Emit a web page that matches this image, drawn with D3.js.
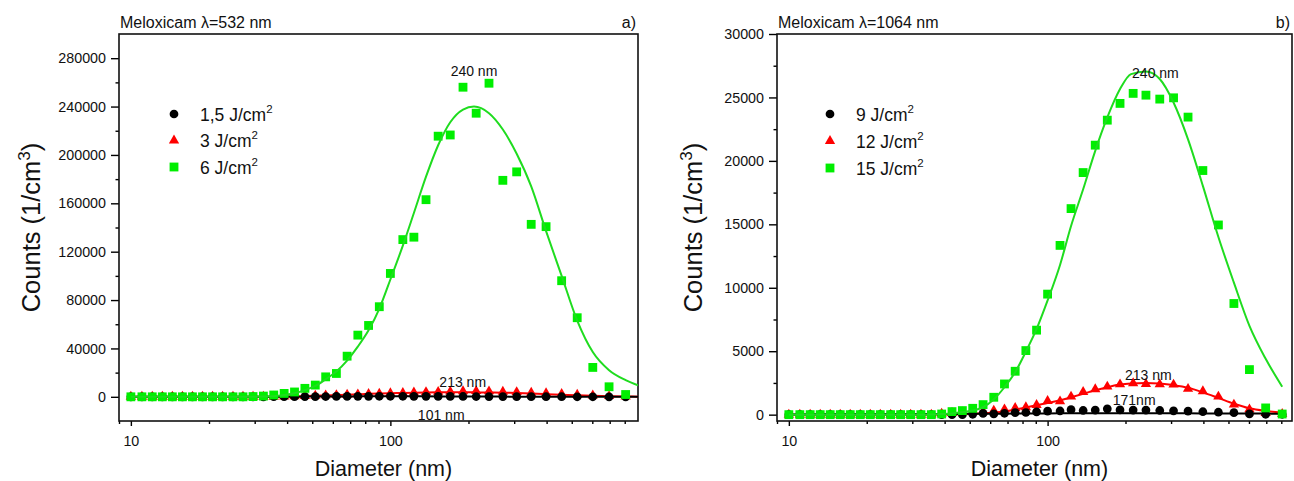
<!DOCTYPE html>
<html>
<head>
<meta charset="utf-8">
<script src="https://cdn.jsdelivr.net/npm/d3@7"></script>
<style>
  html, body { margin: 0; padding: 0; background: #fff; }
  svg { display: block; font-family: "Liberation Sans", Arial, sans-serif; }
</style>
</head>
<body>
<svg id="chart" width="1294" height="481"></svg>
<script>
// ---------- data ----------
const diameters = [10, 11.03, 12.09, 13.22, 14.45, 15.8, 17.27, 18.88, 20.64, 22.56, 24.74, 27.04, 29.56, 32.41, 35.53, 38.96, 42.72, 46.84, 51.36, 56.32, 61.94, 68.13, 74.93, 82.41, 90.65, 100, 111.7, 123.2, 137.2, 152.8, 170.1, 190.5, 214.1, 239.9, 271.3, 306.7, 348.9, 398.1, 457.1, 524.8, 602.6, 696.2, 806.5];

// panel a) lambda = 532 nm
const counts532_1_5 = [0,0,0,0,0,0,0,0,0,0,0,0,0,0, 50,80,120,160,200,250,300,350,400,430,450,460,450,430,400,360,320,280,240,200,160,130,100,80,60,40,30,20,10];
const counts532_3   = [0,0,0,0,0,0,0,0,0,0,0,0,0,0, 100,300,500,700,900,1200,1400,1700,2000,2300,2600,2900,3200,3600,3900,4100,4300,4600,4700,4500,4200,3900,3400,3000,2400,1700,1100,600,200];
const counts532_6   = [0,0,0,0,0,0,0,0,0,0,0,0,200,600, 1500,2800,4000,7000,9700,16500,19300,33600,51000,59000,74500,102000,130000,132000,163000,215500,216500,256000,234500,259300,179000,186000,142600,140700,96000,65400,24300,8300,1900];

const fitDiam532 = [10, 20, 30, 35.5, 39, 42.7, 46.8, 51.4, 56.3, 61.9, 68.1, 74.9, 82.4, 90.7, 100, 111.7, 123.2, 137.2, 152.8, 170.1, 190.5, 210, 239.9, 271.3, 306.7, 348.9, 398.1, 457.1, 524.8, 602.6, 696.2, 806.5, 900];
const fit532_1_5 = [0, 0, 20, 50, 80, 110, 150, 190, 240, 290, 340, 380, 420, 440, 450, 445, 430, 400, 360, 320, 280, 240, 200, 160, 130, 100, 80, 60, 40, 30, 20, 10, 5];
const fit532_3   = [0, 0, 50, 150, 300, 450, 650, 900, 1150, 1450, 1750, 2100, 2450, 2750, 3000, 3250, 3450, 3600, 3700, 3750, 3750, 3700, 3600, 3400, 3100, 2700, 2200, 1700, 1200, 800, 450, 250, 150];
const fit532_6   = [0, 0, 100, 500, 1500, 3000, 5500, 9000, 14500, 21000, 30000, 41500, 55000, 73000, 97000, 125000, 152000, 182000, 208000, 227000, 237500, 240000, 234500, 221000, 201000, 174000, 137000, 100000, 63000, 37000, 22000, 13800, 9500];

// panel b) lambda = 1064 nm
const counts1064_9  = [0,0,0,0,0,0,0,0,0,0,0,0,0,0,0,0,0,0, 30,100,60,110,160,170,220,280,290,390,330,360,460,370,360,360,330,300,280,230,190,160,60,30,30];
const counts1064_12 = [0,0,0,0,0,0,0,0,0,0,0,0,0,0,0, 80,130,180,240,260,320,420,530,580,760,1080,1050,1420,1790,2000,2210,2390,2470,2420,2390,2370,2030,1840,1420,790,420,130,50];
const counts1064_15 = [0,0,0,0,0,0,0,0,0,0,0,0,0,0,0, 50,240,320,500,790,1370,2420,3420,5050,6660,9500,13340,16240,19080,21240,23210,24530,25320,25180,24870,24970,23450,19240,14950,8760,3550,530,50];

const fitDiam1064 = [10, 20, 30, 35.5, 39, 42.7, 46.8, 51.4, 56.3, 61.9, 68.1, 74.9, 82.4, 90.7, 100, 111.7, 123.2, 137.2, 152.8, 170.1, 190.5, 210, 239.9, 271.3, 306.7, 348.9, 398.1, 457.1, 524.8, 602.6, 696.2, 806.5];
const fit1064_9  = [20, 30, 40, 45, 50, 55, 60, 65, 70, 75, 80, 85, 90, 95, 100, 105, 108, 110, 112, 113, 113, 112, 110, 108, 105, 102, 98, 94, 90, 86, 82, 78];
const fit1064_12 = [0, 0, 0, 0, 10, 30, 50, 70, 110, 170, 250, 400, 560, 750, 920, 1130, 1370, 1640, 1920, 2160, 2370, 2460, 2500, 2450, 2330, 2130, 1760, 1320, 870, 500, 290, 160];
const fit1064_15 = [0, 0, 0, 20, 50, 100, 200, 320, 600, 1200, 2160, 3340, 4970, 6760, 9000, 11800, 14870, 17760, 20790, 23420, 25660, 26840, 27050, 26450, 24600, 21700, 18030, 14000, 10400, 7000, 4400, 2200];

const yTicks532 = [0, 40000, 80000, 120000, 160000, 200000, 240000, 280000];
const yMinor532 = [20000, 60000, 100000, 140000, 180000, 220000, 260000];
const yTicks1064 = [0, 5000, 10000, 15000, 20000, 25000, 30000];
const yMinor1064 = [2500, 7500, 12500, 17500, 22500, 27500];
const xTicks = [10, 100];
const xMinor = [9, 20, 30, 40, 50, 60, 70, 80, 90, 200, 300, 400, 500, 600, 700, 800];

const legend532 = ["1,5 J/cm", "3 J/cm", "6 J/cm"];
const legend1064 = ["9 J/cm", "12 J/cm", "15 J/cm"];

// ---------- drawing ----------
const svg = d3.select("#chart");
const GREEN = "#00ee00", GREEN_LINE = "#1fdc1f", RED = "#ff0000", BLACK = "#000000";

function panel(cfg) {
  const x = d3.scaleLog().domain(cfg.xDomain).range([cfg.left, cfg.right]);
  const y = d3.scaleLinear().domain(cfg.yDomain).range([cfg.bottom, cfg.top]);
  const g = svg.append("g");
  const clipId = "clip" + cfg.id;
  svg.append("clipPath").attr("id", clipId).append("rect")
    .attr("x", cfg.left).attr("y", cfg.top)
    .attr("width", cfg.right - cfg.left).attr("height", cfg.bottom - cfg.top);

  // y axis
  const ya = g.append("g").attr("transform", `translate(${cfg.left},0)`)
    .call(d3.axisLeft(y).tickValues(cfg.yTicks).tickSize(8).tickPadding(5).tickFormat(d3.format("d")));
  const ym = g.append("g").attr("transform", `translate(${cfg.left},0)`)
    .call(d3.axisLeft(y).tickValues(cfg.yMinor).tickSize(3.5).tickFormat(""));
  // x axis
  const xa = g.append("g").attr("transform", `translate(0,${cfg.bottom})`)
    .call(d3.axisBottom(x).tickValues(xTicks).tickSize(5).tickPadding(10).tickFormat(d3.format("d")));
  const xm = g.append("g").attr("transform", `translate(0,${cfg.bottom})`)
    .call(d3.axisBottom(x).tickValues(xMinor.filter(v => v >= cfg.xDomain[0] && v <= cfg.xDomain[1])).tickSize(3).tickFormat(""));
  [ya, ym, xa, xm].forEach(a => {
    a.select(".domain").remove();
    a.selectAll("line").attr("stroke", "#000").attr("stroke-width", 1.4);
    a.selectAll("text").attr("font-size", 14.3).attr("fill", "#111").attr("font-family", "Liberation Sans, Arial, sans-serif");
  });

  // frame
  g.append("rect").attr("x", cfg.left).attr("y", cfg.top)
    .attr("width", cfg.right - cfg.left).attr("height", cfg.bottom - cfg.top)
    .attr("fill", "none").attr("stroke", "#111").attr("stroke-width", 1.6);

  const plot = g.append("g").attr("clip-path", `url(#${clipId})`);
  const line = d3.line().x(d => x(d[0])).y(d => y(d[1])).curve(d3.curveMonotoneX);

  const sym = {
    tri: d3.symbol().type(d3.symbolTriangle).size(46),
    circ: d3.symbol().type(d3.symbolCircle).size(60),
    sq: d3.symbol().type(d3.symbolSquare).size(78)
  };

  function drawSeries(vals, fitVals, fitDiam, symbol, color, lineColor) {
    plot.append("g").selectAll("path").data(diameters.map((d, i) => [d, vals[i]])).join("path")
      .attr("d", symbol)
      .attr("transform", d => `translate(${x(d[0])},${y(d[1])})`)
      .attr("fill", color);
    plot.append("path").datum(fitDiam.map((d, i) => [d, fitVals[i]]))
      .attr("d", line).attr("fill", "none").attr("stroke", lineColor).attr("stroke-width", 2);
  }
  // red, black, green order
  drawSeries(cfg.s2, cfg.f2, cfg.fitDiam, sym.tri, RED, RED);
  drawSeries(cfg.s1, cfg.f1, cfg.fitDiam, sym.circ, BLACK, BLACK);
  drawSeries(cfg.s3, cfg.f3, cfg.fitDiam, sym.sq, GREEN, GREEN_LINE);

  // legend
  const leg = g.append("g");
  const syms = [[sym.circ, BLACK], [sym.tri, RED], [sym.sq, GREEN]];
  cfg.legend.forEach((lab, i) => {
    const ly = cfg.legY[i];
    leg.append("path").attr("d", syms[i][0]).attr("fill", syms[i][1])
      .attr("transform", `translate(${cfg.legX},${ly})`);
    const t = leg.append("text").attr("x", cfg.legX + 26).attr("y", ly + 6.5)
      .attr("font-size", 17.5).attr("fill", "#111");
    t.append("tspan").text(lab);
    t.append("tspan").attr("dy", -8).attr("font-size", 11.5).text("2");
  });

  // titles
  g.append("text").attr("x", cfg.left + 1).attr("y", 28).attr("font-size", 16).attr("fill", "#111").text(cfg.title);
  g.append("text").attr("x", cfg.right - 2).attr("y", 28).attr("text-anchor", "end").attr("font-size", 16).attr("fill", "#111").text(cfg.tag);

  // axis titles
  g.append("text").attr("x", (cfg.left + cfg.right) / 2 + 5).attr("y", 476)
    .attr("text-anchor", "middle").attr("font-size", 21.5).attr("fill", "#111").text("Diameter (nm)");
  const yt = g.append("text").attr("transform", `translate(${cfg.yTitleX},${(cfg.top + cfg.bottom) / 2}) rotate(-90)`)
    .attr("text-anchor", "middle").attr("font-size", 25.5).attr("fill", "#111");
  yt.append("tspan").text("Counts (1/cm");
  yt.append("tspan").attr("dy", -10).attr("font-size", 17).text("3");
  yt.append("tspan").attr("dy", 10).text(")");

  // annotations
  cfg.notes.forEach(n => {
    g.append("text").attr("x", x(n.d)).attr("y", y(n.v)).attr("text-anchor", "middle")
      .attr("font-size", 14).attr("fill", "#111").text(n.t);
  });
}

panel({
  id: "a", left: 119, right: 638, top: 34, bottom: 421,
  xDomain: [9, 900], yDomain: [-20000, 300000],
  yTicks: yTicks532, yMinor: yMinor532,
  s1: counts532_1_5, s2: counts532_3, s3: counts532_6,
  f1: fit532_1_5, f2: fit532_3, f3: fit532_6, fitDiam: fitDiam532,
  legend: legend532, legX: 174, legY: [114, 140.5, 167],
  title: "Meloxicam \u03bb=532 nm", tag: "a)", yTitleX: 40,
  notes: [{ t: "240 nm", d: 210, v: 265500 }, { t: "213 nm", d: 190, v: 8000 }, { t: "101 nm", d: 157, v: -19500 }]
});

panel({
  id: "b", left: 777, right: 1292, top: 34, bottom: 421,
  xDomain: [9, 880], yDomain: [-500, 30000],
  yTicks: yTicks1064, yMinor: yMinor1064,
  s1: counts1064_9, s2: counts1064_12, s3: counts1064_15,
  f1: fit1064_9, f2: fit1064_12, f3: fit1064_15, fitDiam: fitDiam1064,
  legend: legend1064, legX: 830, legY: [114, 141, 168],
  title: "Meloxicam \u03bb=1064 nm", tag: "b)", yTitleX: 702,
  notes: [{ t: "240 nm", d: 261, v: 26500 }, { t: "213 nm", d: 245, v: 2750 }, { t: "171nm", d: 216, v: 750 }]
});
</script>
</body>
</html>
